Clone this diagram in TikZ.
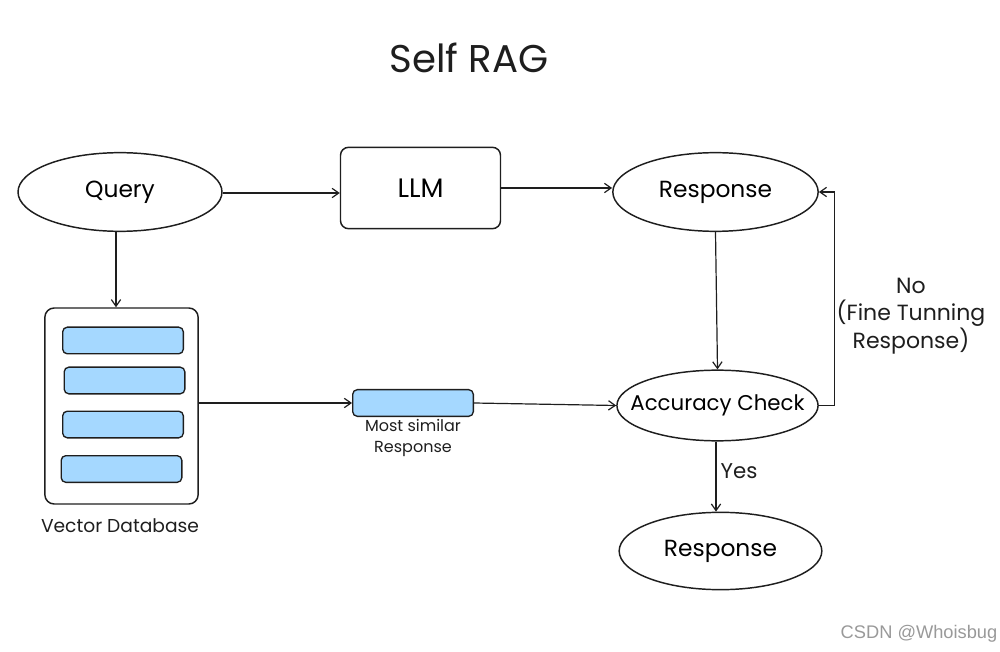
\documentclass[tikz,border=0pt]{standalone}
\usepackage{fontspec}
\setmainfont{Poppins}
\setsansfont{Liberation Sans}
\usetikzlibrary{shapes.geometric,arrows.meta}
\definecolor{barblue}{HTML}{A5D8FF}
\definecolor{ink}{HTML}{1E1E1E}
\begin{document}
\begin{tikzpicture}[x=0.75pt,y=-0.75pt,
  ink/.style={draw=ink,line width=1.1pt},
  ell/.style={ink,ellipse,inner sep=0pt,font=\fontsize{17.5}{21}\selectfont},
  box/.style={ink,rounded corners=6pt,inner sep=0pt,font=\fontsize{17.5}{21}\selectfont},
  bar/.style={draw=ink,line width=1pt,fill=barblue,rounded corners=3.5pt,inner sep=0pt,minimum width=90.5pt,minimum height=20pt},
  conn/.style={draw=ink,line width=0.9pt,-{Straight Barb[length=5pt,width=7pt]}},
  lbl/.style={text=ink,inner sep=0pt,align=center},
]
\useasboundingbox (0,0) rectangle (1000,652);
\node[lbl,font=\fontsize{29}{34}\selectfont] (title) at (469,58) {Self RAG};
\node[ell,minimum width=153pt,minimum height=59pt] (query) at (120,192) {Query};
\node[box,font=\fontsize{20}{24}\selectfont,minimum width=120pt,minimum height=61pt] (llm) at (420.5,188) {LLM};
\node[ell,minimum width=154pt,minimum height=59pt] (resp) at (715.5,192) {Response};
\node[box,rounded corners=7pt,minimum width=115pt,minimum height=147pt] (db) at (121.5,406) {};
\node[bar] (b1) at (123,340.5) {};
\node[bar] (b2) at (124.5,380.5) {};
\node[bar] (b3) at (123,424.5) {};
\node[bar] (b4) at (121.5,469) {};
\node[lbl,font=\fontsize{14}{16}\selectfont] (dblbl) at (120,526) {Vector Database};
\node[bar] (ms) at (413,403) {};
\node[lbl,font=\fontsize{12}{15.75}\selectfont,anchor=north] (mslbl) at (413,419) {Most similar\\Response};
\node[ell,font=\fontsize{16}{19}\selectfont,inner xsep=-12pt,minimum width=146pt,minimum height=53pt] (acc) at (717.5,405.5) {Accuracy Check};
\node[ell,minimum width=152pt,minimum height=58pt] (resp2) at (720.5,551) {Response};
\node[lbl,font=\fontsize{16.5}{20.5}\selectfont] (nolbl) at (911,316) {No\\(Fine Tunning\\Response)};
\node[lbl,font=\fontsize{16}{19}\selectfont] (yes) at (739,471) {Yes};
\node[lbl,font=\sffamily\fontsize{13.7}{16}\selectfont,text=black!40] (csdn) at (919,634) {CSDN @Whoisbug};

\draw[conn] (query.east |- 0,193) -- (llm.west |- 0,193);
\draw[conn] (llm.east |- 0,188) -- (resp.west |- 0,188);
\draw[conn] (query.south -| 116,0) -- (db.north -| 116,0);
\draw[conn] (db.east |- 0,403) -- (ms.west);
\draw[conn] (ms.east) -- (acc.west);
\draw[conn] (resp.south) -- (acc.north);
\draw[conn] (acc.east) -- ++(16,0) |- (resp.east);
\draw[conn] (acc.south -| 716,0) -- (resp2.north -| 716,0);
\end{tikzpicture}
\end{document}
